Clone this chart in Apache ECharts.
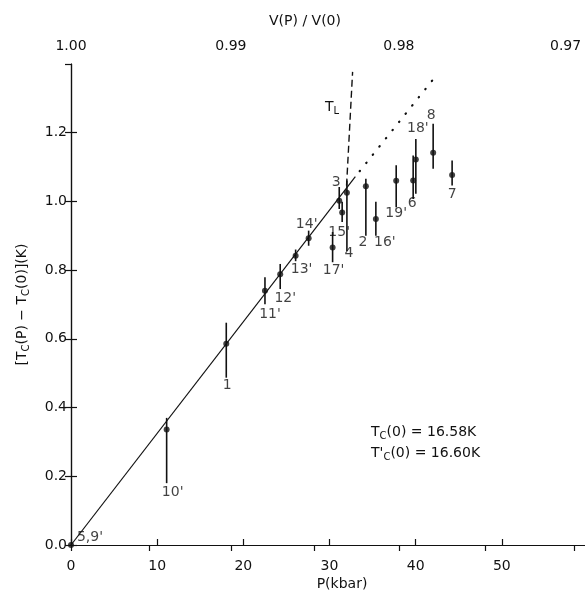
<!DOCTYPE html>
<html>
<head>
<meta charset="utf-8">
<script src="https://cdn.jsdelivr.net/npm/echarts@6/dist/echarts.min.js"></script>
<style>html,body{margin:0;padding:0;background:#fff}#c{width:585px;height:597px}</style>
</head>
<body>
<div id="c"></div>
<script>
// ---- data ----
const pointLabels = ["5,9'", "10'", "1", "11'", "12'", "13'", "14'", "17'", "3", "15'", "4", "2", "16'", "19'", "6", "18'", "8", "7"];
const pressure = [0, 11.10, 18.02, 22.51, 24.28, 26.07, 27.58, 30.36, 31.13, 31.47, 32.02, 34.22, 35.38, 37.74, 39.71, 40.02, 42.03, 44.23];
const deltaTc  = [0, 0.336, 0.586, 0.740, 0.788, 0.842, 0.893, 0.866, 1.002, 0.968, 1.025, 1.044, 0.949, 1.060, 1.061, 1.122, 1.142, 1.077];
const errLow   = [null, 0.180, 0.487, 0.701, 0.745, 0.826, 0.871, 0.823, 0.978, 0.940, 0.856, 0.900, 0.900, 0.983, 1.007, 1.022, 1.095, 1.046];
const errHigh  = [null, 0.370, 0.647, 0.779, 0.818, 0.860, 0.915, 0.911, 1.042, 0.999, 1.061, 1.066, 0.999, 1.105, 1.134, 1.182, 1.226, 1.119];

const fitSolidP = [0, 33.0];
const fitSolidT = [0, 1.072];
const fitDottedP = [33.5, 42.5];
const fitDottedT = [1.088, 1.37];
const tlLineP = [31.98, 32.68];
const tlLineT = [1.046, 1.377];

const bottomTickLabels = ["0", "10", "20", "30", "40", "50"];
const leftTickLabels = ["0.0", "0.2", "0.4", "0.6", "0.8", "1.0", "1.2"];
const topTickLabels = ["1.00", "0.99", "0.98", "0.97"];
const topTickP = [0, 9.1, 18.56, 28.2, 38.05, 48.1, 58.35];   // pressure where V(P)/V(0) ticks fall
const topLabelP = [0, 18.56, 38.05, 57.4];

// label offsets (layout only, px)
const labelOffsets = [[19,-8],[6,63],[1,42],[5,24],[5,24],[6,14],[-2,-14],[1,23],[-3,-18],[-3,20],[2,61],[-3,56],[9,23],[0,33],[-1,23],[2,-31],[-2,-37],[0,19]];

const FONT = 'DejaVu Sans';
const INK = '#111';

const chart = echarts.init(document.getElementById('c'), null, {renderer: 'canvas'});

const scatterData = pressure.map((p, i) => ({
  value: [p, deltaTc[i]],
  label: {show: true, formatter: pointLabels[i], offset: labelOffsets[i], position: 'inside',
          color: INK, fontFamily: FONT, fontSize: 14}
}));
const errData = pressure.map((p, i) => [p, errLow[i], errHigh[i]]).filter(d => d[1] !== null);

const axisCommon = {
  axisLine: {show: true, lineStyle: {color: INK, width: 1.2}},
  axisTick: {show: true, inside: true, length: 6, lineStyle: {color: INK, width: 1.2}},
  splitLine: {show: false},
  axisLabel: {color: INK, fontFamily: FONT, fontSize: 14}
};

const option = {
  animation: false,
  backgroundColor: '#fff',
  grid: {left: 71, right: -3, top: 64, bottom: 52, containLabel: false, outerBoundsMode: 'none'},
  xAxis: [
    Object.assign({}, axisCommon, {
      type: 'value', position: 'bottom', min: 0, max: 60, interval: 10,
      axisLabel: Object.assign({}, axisCommon.axisLabel, {margin: 14, showMaxLabel: false,
        formatter: v => bottomTickLabels[Math.round(v / 10)] || ''})
    }),
    Object.assign({}, axisCommon, {
      type: 'value', position: 'top', min: 0, max: 60,
      axisTick: Object.assign({}, axisCommon.axisTick, {customValues: topTickP}),
      axisLabel: Object.assign({}, axisCommon.axisLabel, {margin: 11, customValues: topLabelP,
        formatter: v => { const i = topLabelP.findIndex(x => Math.abs(x - v) < 1e-6); return i >= 0 ? topTickLabels[i] : ''; }})
    })
  ],
  yAxis: [
    Object.assign({}, axisCommon, {
      type: 'value', position: 'left', min: 0, max: 1.4, interval: 0.2,
      name: '[T{s|C}(P) − T{s|C}(0)](K)', nameLocation: 'middle', nameGap: 40, nameRotate: 90,
      nameTextStyle: {color: INK, fontFamily: FONT, fontSize: 14, lineHeight: 18,
        rich: {s: {fontFamily: FONT, fontSize: 10, lineHeight: 10, verticalAlign: 'bottom', color: INK}}},
      axisLabel: Object.assign({}, axisCommon.axisLabel, {margin: 4, showMaxLabel: false,
        formatter: v => leftTickLabels[Math.round(v / 0.2)] || ''})
    }),
    Object.assign({}, axisCommon, {
      type: 'value', position: 'right', min: 0, max: 1.4, interval: 0.2,
      axisLabel: {show: false}
    })
  ],
  series: [
    {
      type: 'line', xAxisIndex: 0, yAxisIndex: 0, symbol: 'none', silent: true,
      data: fitSolidP.map((p, i) => [p, fitSolidT[i]]),
      lineStyle: {color: INK, width: 1.2}
    },
    {
      type: 'line', xAxisIndex: 0, yAxisIndex: 0, symbol: 'none', silent: true,
      data: fitDottedP.map((p, i) => [p, fitDottedT[i]]),
      lineStyle: {color: INK, width: 2.2, type: [0.5, 10], cap: 'round'}
    },
    {
      type: 'line', xAxisIndex: 0, yAxisIndex: 0, symbol: 'none', silent: true,
      data: tlLineP.map((p, i) => [p, tlLineT[i]]),
      lineStyle: {color: INK, width: 1.4, type: [7, 4]}
    },
    {
      type: 'custom', xAxisIndex: 0, yAxisIndex: 0, silent: true,
      data: errData,
      renderItem: function (params, api) {
        const a = api.coord([api.value(0), api.value(1)]);
        const b = api.coord([api.value(0), api.value(2)]);
        return {type: 'line', shape: {x1: a[0], y1: a[1], x2: b[0], y2: b[1]},
                style: {stroke: INK, lineWidth: 1.6}};
      }
    },
    {
      type: 'scatter', xAxisIndex: 0, yAxisIndex: 0, symbol: 'circle', symbolSize: 6,
      itemStyle: {color: INK}, data: scatterData
    }
  ],
  graphic: [
    {type: 'text', x: 305, y: 21, style: {text: 'V(P) / V(0)', fill: INK, fontFamily: FONT, fontSize: 14, align: 'center', verticalAlign: 'middle'}},
    {type: 'text', x: 342, y: 584, style: {text: 'P(kbar)', fill: INK, fontFamily: FONT, fontSize: 14, align: 'center', verticalAlign: 'middle'}},
    {type: 'text', x: 332, y: 107, style: {text: 'T{s|L}', fill: INK, fontFamily: FONT, fontSize: 14, lineHeight: 18, align: 'center', verticalAlign: 'middle',
      rich: {s: {fontFamily: FONT, fontSize: 10, lineHeight: 10, verticalAlign: 'bottom', fill: INK}}}},
    {type: 'text', x: 371, y: 432, style: {text: 'T{s|C}(0) = 16.58K', fill: INK, fontFamily: FONT, fontSize: 14, lineHeight: 18, align: 'left', verticalAlign: 'middle',
      rich: {s: {fontFamily: FONT, fontSize: 10, lineHeight: 10, verticalAlign: 'bottom', fill: INK}}}},
    {type: 'text', x: 371, y: 453, style: {text: "T'{s|C}(0) = 16.60K", fill: INK, fontFamily: FONT, fontSize: 14, lineHeight: 18, align: 'left', verticalAlign: 'middle',
      rich: {s: {fontFamily: FONT, fontSize: 10, lineHeight: 10, verticalAlign: 'bottom', fill: INK}}}}
  ]
};
chart.setOption(option);
</script>
</body>
</html>
